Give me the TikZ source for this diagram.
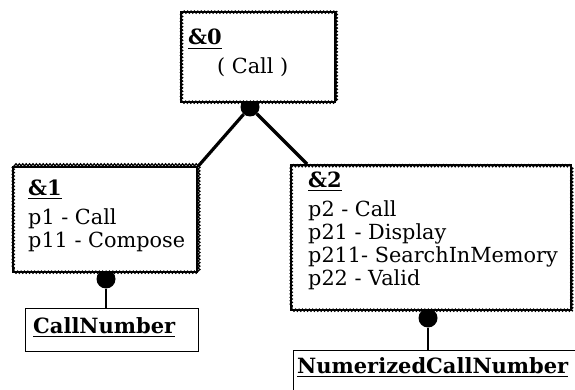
\documentclass[tikz,border=0pt]{standalone}
\usepackage{fontspec}
\setmainfont{DejaVu Serif}
\usetikzlibrary{decorations.pathmorphing,calc}
% underlined heading: text with a heavy rule a little below its baseline
\newcommand\ulbox[1]{\vtop{\hbox{#1}\kern2.4pt\hrule height 1.6pt}}
\begin{document}
\begin{tikzpicture}[x=1pt,y=-1pt,
  wavybox/.style={draw, fill=white, line width=2.4pt,
    postaction={draw, decorate, line width=1.3pt,
      decoration={snake, amplitude=1pt, segment length=3.4pt}},
    anchor=north west, inner sep=0pt},
  plainbox/.style={draw, fill=white, line width=1.4pt, anchor=north west, inner sep=0pt},
  joint/.style={circle, fill=black, inner sep=0pt, minimum size=19pt},
  strong/.style={line width=3.2pt},
  thinlink/.style={line width=1.3pt},
  txt/.style={anchor=base west, inner sep=0pt, font=\fontsize{20.8}{24}\selectfont},
  head/.style={txt, font=\fontsize{21}{24}\selectfont\bfseries}]
\useasboundingbox (0,0) rectangle (575,390);
\fill[white] (0,0) rectangle (575,390);

% joints (their upper parts are hidden under the boxes)
\node[joint] (j0) at (250,107) {};
\node[joint] (j1) at (106,279) {};
\node[joint] (j2) at (428,318) {};

% boxes
\node[wavybox, minimum width=154pt, minimum height=90pt]  (b0) at (180,11) {};
\node[wavybox, minimum width=184pt, minimum height=105pt] (b1) at (12,166) {};
\node[wavybox, minimum width=280pt, minimum height=145pt] (b2) at (290,164) {};
\node[plainbox, minimum width=173pt, minimum height=43pt] (c1) at (25,308) {};
\node[plainbox, minimum width=300pt, minimum height=70pt] (c2) at (293,350) {};

% box contents
\node[head] (h0) at (188,45) {\ulbox{\&0}};
\node[txt] (l0) at (217,74) {( Call )};

\node[head] (h1) at (28,195) {\ulbox{\&1}};
\node[txt] (l1a) at (28,224) {p1 - Call};
\node[txt] (l1b) at (28,247) {p11 - Compose};

\node[head] (h2) at (308,187) {\ulbox{\&2}};
\node[txt] (l2a) at (308,216) {p2 - Call};
\node[txt] (l2b) at (308,239) {p21 - Display};
\node[txt] (l2c) at (308,262) {p211- SearchInMemory};
\node[txt] (l2d) at (308,285) {p22 - Valid};

\node[head] (n1) at (33,333) {\ulbox{CallNumber}};
\node[head] (n2) at (297,373) {\ulbox{NumerizedCallNumber}};

% connectors
\draw[strong] (j0) -- (b1.north east);
\draw[strong] (j0) -- ($(b2.north west)+(17,0)$);
\draw[thinlink] (j1) -- (j1 |- c1.north);
\draw[thinlink] (j2) -- (j2 |- c2.north);
\end{tikzpicture}
\end{document}
